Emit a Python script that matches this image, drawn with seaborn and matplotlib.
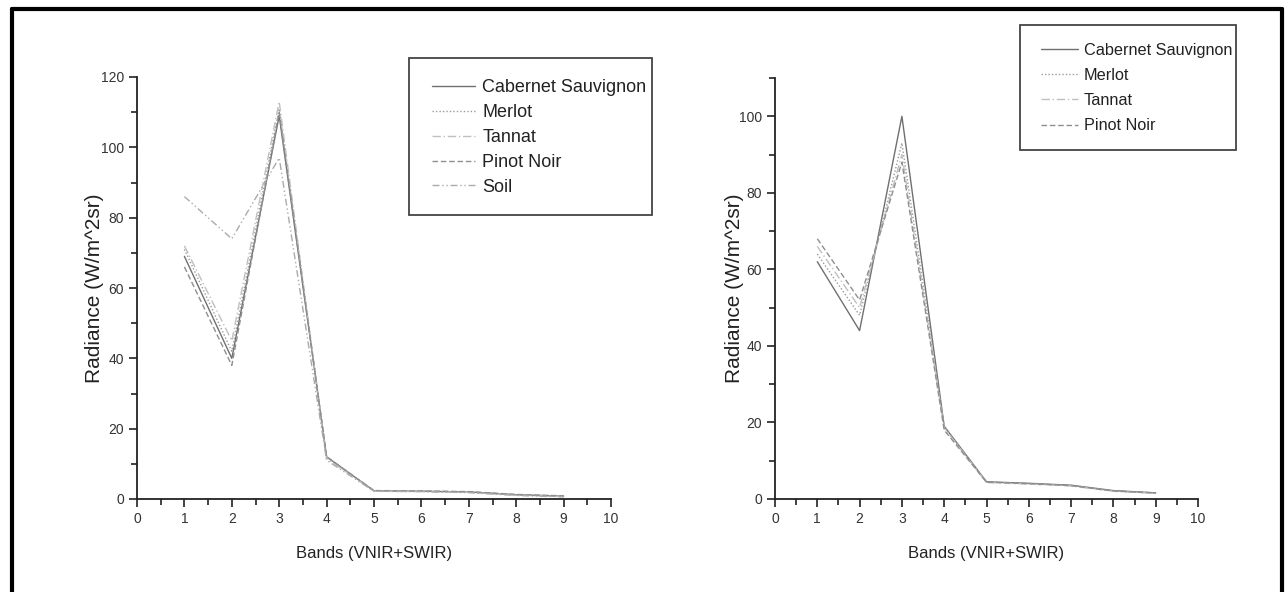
import pandas as pd
import matplotlib.pyplot as plt
import seaborn as sns
from matplotlib.lines import Line2D
from matplotlib.patches import Rectangle
from matplotlib.ticker import MultipleLocator

# Radiance per ASTER band
bands = [1, 2, 3, 4, 5, 6, 7, 8, 9]

# left panel: varieties + soil
cabernet_left = [69, 40, 109, 12, 2.3, 2.2, 2.0, 1.2, 0.8]
merlot_left = [71, 42, 111, 12, 2.3, 2.2, 2.0, 1.2, 0.8]
tannat_left = [72, 45, 113, 11.5, 2.2, 2.1, 1.9, 1.1, 0.7]
pinot_left = [66, 38, 110, 12, 2.4, 2.3, 2.1, 1.3, 0.9]
soil_left = [86, 74, 97, 11, 2.2, 2.1, 1.8, 1.0, 0.6]

# right panel: varieties only
cabernet_right = [62, 44, 100, 19, 4.5, 4.1, 3.6, 2.2, 1.6]
merlot_right = [64, 48, 93, 19, 4.4, 4.0, 3.5, 2.1, 1.5]
tannat_right = [66, 50, 90, 18.5, 4.3, 3.9, 3.4, 2.0, 1.5]
pinot_right = [68, 52, 88, 18, 4.4, 4.0, 3.5, 2.1, 1.6]

names = ["Cabernet Sauvignon", "Merlot", "Tannat", "Pinot Noir", "Soil"]


def long_form(series):
    rows = []
    for name, vals in zip(names, series):
        for b, v in zip(bands, vals):
            rows.append({"band": b, "radiance": v, "variety": name})
    return pd.DataFrame(rows)


df_left = long_form([cabernet_left, merlot_left, tannat_left, pinot_left, soil_left])
df_right = long_form([cabernet_right, merlot_right, tannat_right, pinot_right])

colors = {"Cabernet Sauvignon": "#707070", "Merlot": "#9a9a9a", "Tannat": "#c0c0c0",
          "Pinot Noir": "#8f8f8f", "Soil": "#ababab"}
dashes = {"Cabernet Sauvignon": "", "Merlot": (1, 1.5), "Tannat": (6, 2, 1, 2),
          "Pinot Noir": (4, 2), "Soil": (5, 2, 1, 2, 1, 2)}

W, H = 1285, 592
sns.set_style("ticks")
plt.rcParams["font.family"] = ["Liberation Sans", "DejaVu Sans"]

fig = plt.figure(figsize=(W / 100, H / 100), dpi=100)
ax1 = fig.add_axes([137 / W, 1 - 499 / H, 474 / W, 422 / H])
ax2 = fig.add_axes([775 / W, 1 - 499 / H, 423 / W, 421 / H])


def draw(ax, df, ymax, ylab_x, leg_xy, leg_size, leg_len, leg_space, box):
    sub_names = list(df["variety"].unique())
    sns.lineplot(data=df, x="band", y="radiance", hue="variety", style="variety",
                 palette={n: colors[n] for n in sub_names},
                 dashes={n: dashes[n] for n in sub_names},
                 linewidth=1.0, ax=ax)
    ax.set_xlim(0, 10)
    ax.set_ylim(0, ymax)
    ax.xaxis.set_major_locator(MultipleLocator(1))
    ax.xaxis.set_minor_locator(MultipleLocator(0.5))
    ax.yaxis.set_major_locator(MultipleLocator(20))
    ax.yaxis.set_minor_locator(MultipleLocator(10))
    ax.tick_params(which="major", length=6, width=1.2, color="#222",
                   labelsize=10, labelcolor="#333", direction="out")
    ax.tick_params(which="minor", length=4, width=1.2, color="#222", direction="out")
    for s in ["top", "right"]:
        ax.spines[s].set_visible(False)
    for s in ["left", "bottom"]:
        ax.spines[s].set_linewidth(1.3)
        ax.spines[s].set_color("#222")
    ax.set_xlabel("Bands (VNIR+SWIR)", fontsize=12, color="#222")
    ax.set_ylabel("Radiance (W/m^2sr)", fontsize=15, color="#222")
    ax.xaxis.set_label_coords(0.5, -0.112)
    ax.yaxis.set_label_coords(ylab_x, 0.5)

    # legend without its own frame, box drawn separately (Origin style)
    handles, labels = ax.get_legend_handles_labels()
    leg = ax.legend(handles, labels, loc="upper left",
                    bbox_to_anchor=(leg_xy[0] / W, 1 - leg_xy[1] / H),
                    bbox_transform=fig.transFigure,
                    borderaxespad=0, borderpad=0, fontsize=leg_size, frameon=False,
                    handlelength=leg_len, handletextpad=0.38, labelspacing=leg_space)
    for t in leg.get_texts():
        t.set_color("#222")
    x0, y0, x1, y1 = box
    fig.add_artist(Rectangle((x0 / W, 1 - y1 / H), (x1 - x0) / W, (y1 - y0) / H,
                             transform=fig.transFigure, fill=False,
                             edgecolor="#444", linewidth=1.3))


draw(ax1, df_left, 120, -0.07, (432, 79), 13, 2.4, 0.44, (409, 58, 652, 215))
draw(ax2, df_right, 110, -0.074, (1041, 43), 11.7, 2.25, 0.62, (1020, 25, 1236, 150))

# black frame round the page
lw = 3
xl, xr, yt = 11.5 / W, 1281.5 / W, 1 - 9 / H
fig.add_artist(Line2D([xl, xl], [0, yt], color="black", lw=lw, transform=fig.transFigure))
fig.add_artist(Line2D([xl, xr], [yt, yt], color="black", lw=lw, transform=fig.transFigure))
fig.add_artist(Line2D([xr, xr], [0, yt], color="black", lw=lw, transform=fig.transFigure))

fig.savefig("out.png", dpi=100)
